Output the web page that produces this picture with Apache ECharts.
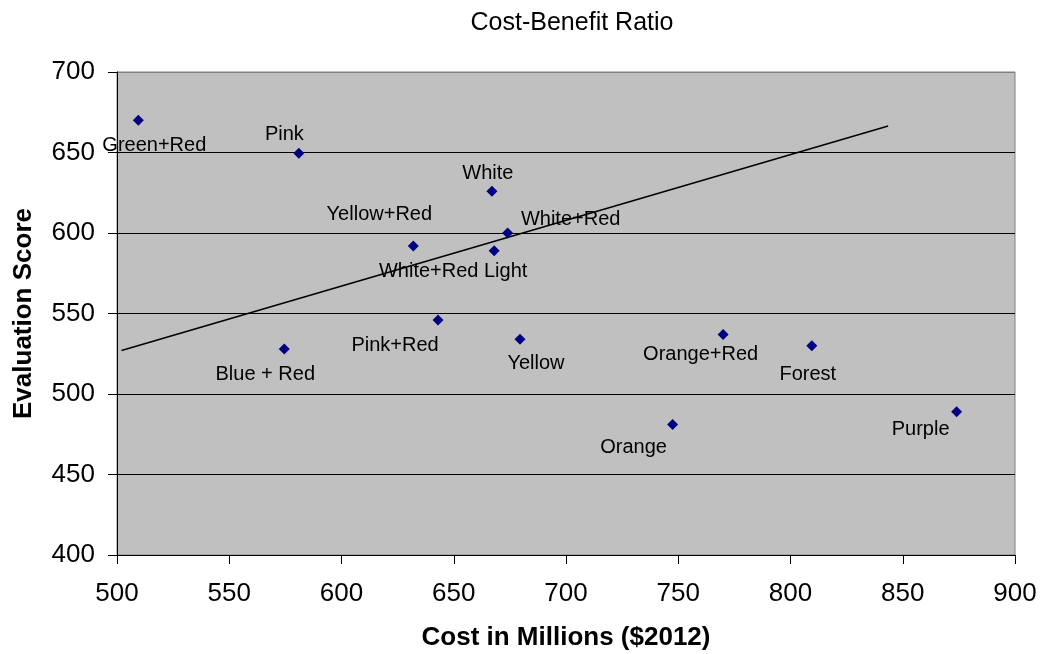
<!DOCTYPE html>
<html>
<head>
<meta charset="utf-8">
<script src="https://cdn.jsdelivr.net/npm/echarts@6/dist/echarts.min.js"></script>
<style>
  html, body { margin: 0; padding: 0; background: #fff; }
  #chart { width: 1041px; height: 654px; }
</style>
</head>
<body>
<div id="chart"></div>
<script>
// Options evaluated: cost (millions, $2012) vs. evaluation score
const names = ['Green+Red', 'Pink', 'White', 'White+Red', 'Yellow+Red', 'White+Red Light',
  'Pink+Red', 'Blue + Red', 'Yellow', 'Orange+Red', 'Forest', 'Orange', 'Purple'];
const costs = [509.5, 581, 667, 674, 632, 668, 643, 574.5, 679.5, 770, 809.5, 747.5, 874];
const scores = [670, 649.5, 626, 600, 592, 589, 546, 528, 534, 537, 530, 481, 489];

// Trend line end points
const trendX = [502, 843.5];
const trendY = [527, 666.5];

// Axis ticks
const xTicks = [500, 550, 600, 650, 700, 750, 800, 850, 900];
const yTicks = [400, 450, 500, 550, 600, 650, 700];

// Where each data label sits relative to its marker (px)
const labelOffsets = [[16, 25], [-14.5, -19], [-4, -18], [63, -14], [-34, -31], [-41, 21],
  [-43, 26], [-19, 25.5], [16, 24.5], [-22.5, 20], [-4, 29], [-39, 22.5], [-36, 18]];

const font = '"Liberation Sans", Arial, sans-serif';

const points = names.map((n, i) => ({
  name: n,
  value: [costs[i], scores[i]],
  label: { offset: labelOffsets[i] }
}));

const chart = echarts.init(document.getElementById('chart'), null, { renderer: 'canvas' });
chart.setOption({
  animation: false,
  backgroundColor: '#ffffff',
  title: {
    text: 'Cost-Benefit Ratio',
    left: 567, top: 6, textAlign: 'center',
    textStyle: { fontFamily: font, fontSize: 25, fontWeight: 'normal', color: '#000' }
  },
  grid: {
    left: 117, right: 26, top: 72, bottom: 99,
    containLabel: false,
    outerBoundsMode: 'none',
    show: true, backgroundColor: '#c0c0c0', borderColor: '#808080', borderWidth: 1
  },
  xAxis: {
    type: 'value',
    min: xTicks[0], max: xTicks[xTicks.length - 1], interval: 50,
    name: 'Cost in Millions ($2012)',
    nameLocation: 'middle', nameGap: 70,
    nameTextStyle: { fontFamily: font, fontSize: 26, fontWeight: 'bold', color: '#000' },
    axisLine: { show: true, lineStyle: { color: '#000', width: 1 } },
    axisTick: { show: true, inside: false, length: 9, lineStyle: { color: '#000' } },
    axisLabel: { fontFamily: font, fontSize: 26, color: '#000', margin: 26 },
    splitLine: { show: false }
  },
  yAxis: {
    type: 'value',
    min: yTicks[0], max: yTicks[yTicks.length - 1], interval: 50,
    name: 'Evaluation Score',
    nameLocation: 'middle', nameGap: 80, nameRotate: 90,
    nameTextStyle: { fontFamily: font, fontSize: 26, fontWeight: 'bold', color: '#000' },
    axisLine: { show: true, lineStyle: { color: '#000', width: 1 } },
    axisTick: { show: true, inside: false, length: 9, lineStyle: { color: '#000' } },
    axisLabel: { fontFamily: font, fontSize: 26, color: '#000', margin: 22 },
    splitLine: {
      show: true,
      lineStyle: { color: ['#000', '#000', '#000', '#000', '#000', '#000', '#808080'], width: 1 }
    }
  },
  series: [
    {
      type: 'line',
      data: trendX.map((x, i) => [x, trendY[i]]),
      showSymbol: false,
      symbol: 'none',
      lineStyle: { color: '#000', width: 1.5 },
      z: 3,
      silent: true
    },
    {
      type: 'scatter',
      data: points,
      symbol: 'diamond',
      symbolSize: 11,
      itemStyle: { color: '#000080', opacity: 1 },
      z: 4,
      label: {
        show: true,
        position: 'inside',
        formatter: p => p.name,
        fontFamily: font,
        fontSize: 20,
        color: '#000',
        textBorderWidth: 0,
        align: 'center',
        verticalAlign: 'middle'
      }
    }
  ]
});
</script>
</body>
</html>
